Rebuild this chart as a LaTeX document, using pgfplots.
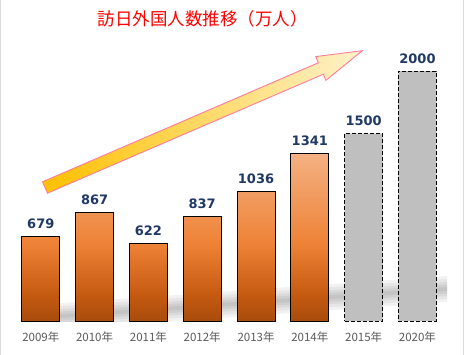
\documentclass[border=0pt]{standalone}
\usepackage{pgfplots}
\pgfplotsset{compat=1.18}
\usepackage{fontspec}
\setmainfont{DejaVu Sans}
\newfontfamily\jp{Noto Sans CJK JP}
\definecolor{navy}{HTML}{1F3864}
\definecolor{tickgray}{HTML}{595959}
\definecolor{framegray}{HTML}{D9D9D9}
\definecolor{orTop}{HTML}{F4B183}
\definecolor{orMid}{HTML}{EE8236}
\definecolor{orDark}{HTML}{C55A11}
\definecolor{orBot}{HTML}{A84C0C}
\definecolor{barGray}{HTML}{BFBFBF}
\definecolor{gold}{HTML}{FFC000}
\definecolor{goldMid}{HTML}{FFD966}
\definecolor{cream}{HTML}{FFF2CC}
\definecolor{pinkline}{HTML}{FF7C9C}
\pgfdeclareverticalshading{barshade}{100bp}{color(0bp)=(orBot); color(25bp)=(orBot); color(33bp)=(orDark); color(48bp)=(orMid); color(75bp)=(orTop); color(100bp)=(orTop)}
\begin{document}
\begin{tikzpicture}[x=1pt,y=1pt]
\path[use as bounding box] (0,0) rectangle (465,355);
\draw[framegray, line width=1pt] (0.5,0)--(0.5,355) (463.5,0)--(463.5,355);
% soft shadow band behind the bars
\begin{scope}
\clip (30,33) rectangle (447,100);
\foreach \w in {13,10,7,4.5,2}{
  \fill[black, opacity=0.05] (45,37.7+\w) -- (447,66+\w) -- (447,66-\w) -- (45,37.7-\w) -- cycle;
}
\end{scope}
\begin{axis}[
  at={(5.8,27)}, anchor=south west,
  scale only axis, width=452pt, height=322pt,
  xmin=-0.7, xmax=7.7, ymin=0, ymax=2576,
  axis line style={draw=none},
  ytick=\empty,
  xtick={0,1,2,3,4,5,6,7},
  xticklabels={2009年,2010年,2011年,2012年,2013年,2014年,2015年,2020年},
  major tick length=0pt,
  xticklabel style={font=\jp\fontsize{11.5}{13}\selectfont, text=tickgray, anchor=base, yshift=-20pt},
  clip=false,
  ybar,
  /pgf/number format/1000 sep={},
  /pgf/number format/assume math mode=true,
  nodes near coords,
  nodes near coords style={font=\bfseries\fontsize{13}{15}\selectfont, text=navy, anchor=south, yshift=4pt},
]
\addplot[bar width=38pt, bar shift=0pt, draw=black, line width=0.8pt,
  shade, shading=barshade]
  coordinates {(0,679) (1,867) (2,622) (3,837) (4,1036) (5,1341)};
\addplot[bar width=38pt, bar shift=0pt, draw=black, line width=0.8pt,
  dash pattern=on 4pt off 2pt, fill=barGray]
  coordinates {(6,1500) (7,2000)};
\end{axis}
% rising arrow
\shadedraw[draw=pinkline, line width=0.9pt, left color=gold, middle color=goldMid, right color=cream]
  (42.5,173.2) -- (318.3,292.2) -- (315.7,298.4) -- (362.3,304.3) -- (325.9,274.6) -- (323.3,280.8) -- (47.5,161.8) -- cycle;
\node[text=red, font=\jp\fontsize{17.5}{20}\selectfont] at (202.5,336) {訪日外国人数推移（万人）};
\end{tikzpicture}
\end{document}
